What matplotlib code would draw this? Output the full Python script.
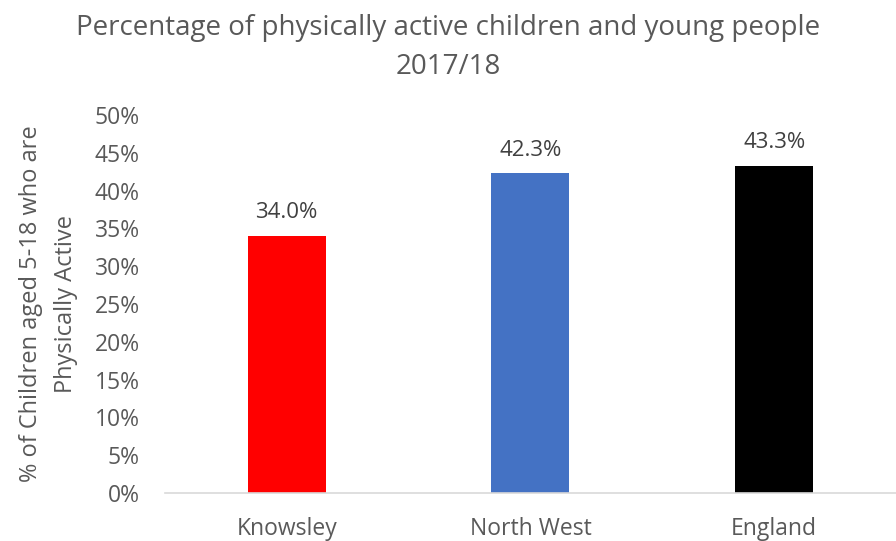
import matplotlib.pyplot as plt
from matplotlib.ticker import PercentFormatter

plt.rcParams['font.family'] = ['Open Sans', 'DejaVu Sans']

# data
areas = ['Knowsley', 'North West', 'England']
active_pct = [34.0, 42.3, 43.3]
bar_colours = ['#FF0000', '#4472C4', '#000000']

grey = '#595959'

fig = plt.figure(figsize=(8.96, 5.41), dpi=100)
ax = fig.add_axes([0.184, 0.0887, 0.816, 0.6987])

bars = ax.bar(range(len(areas)), active_pct, width=0.32, color=bar_colours)
for b, v in zip(bars, active_pct):
    ax.annotate('%.1f%%' % v, (b.get_x() + b.get_width() / 2, v),
                xytext=(0, 9), textcoords='offset points',
                ha='center', va='bottom', fontsize=16, color='#404040')

ax.set_xlim(-0.5, 2.5)
ax.set_ylim(0, 50)
ax.set_yticks(range(0, 51, 5))
ax.yaxis.set_major_formatter(PercentFormatter(decimals=0))
ax.set_xticks(range(len(areas)))
ax.set_xticklabels(areas)

for s in ['top', 'right', 'left']:
    ax.spines[s].set_visible(False)
ax.spines['bottom'].set_color('#d9d9d9')
ax.spines['bottom'].set_linewidth(1.2)
ax.tick_params(axis='both', length=0, labelsize=16.5, colors=grey)
ax.tick_params(axis='y', pad=18)
ax.tick_params(axis='x', pad=17)

ax.set_ylabel('% of Children aged 5-18 who are\nPhysically Active',
              fontsize=17, color=grey, labelpad=12, linespacing=1.6)

fig.text(0.5, 0.975, 'Percentage of physically active children and young people\n2017/18',
         ha='center', va='top', fontsize=20, color=grey, linespacing=1.55)

plt.savefig('out.png', dpi=100)
plt.close()
